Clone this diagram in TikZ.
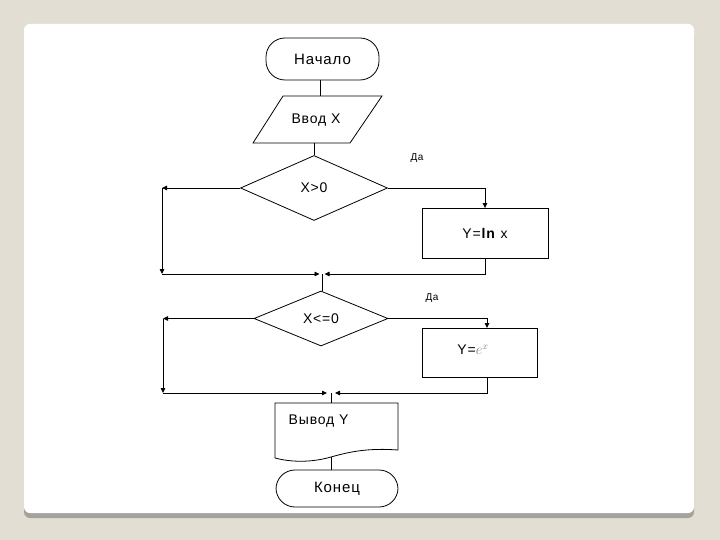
\documentclass[tikz,border=0pt]{standalone}
\usepackage{fontspec}
\setmainfont{Liberation Sans}[LetterSpace=6]
\usetikzlibrary{arrows.meta,shapes.geometric}
\definecolor{bg}{RGB}{227,222,211}
\definecolor{shadowc}{RGB}{165,161,155}
\begin{document}
\begin{tikzpicture}[x=1pt,y=-1pt,line width=0.8pt,
  arr/.style={-{Triangle[length=5pt,width=4.5pt]}},
  big/.style={font=\fontsize{15}{15}\selectfont},
  mid/.style={font=\fontsize{14}{14}\selectfont},
  small/.style={font=\fontsize{10}{10}\selectfont},
  boxs/.style={draw,rectangle,inner sep=0pt},
  term/.style={draw,rectangle,rounded corners=19pt,inner sep=0pt,big},
  dec/.style={draw,diamond,inner sep=0pt,mid}]
\useasboundingbox (0,0) rectangle (720,540);
\fill[bg] (0,0) rectangle (720,540);
\fill[shadowc,rounded corners=6pt] (24,30) rectangle (694,518);
\fill[white,rounded corners=6pt] (24,24) rectangle (694,513);
% start
\node[term,minimum width=113pt,minimum height=42pt] (start) at (322.5,59) {Начало};
% input
\coordinate (inpT) at (320,96);
\coordinate (inpB) at (314,143);
\draw (283,96) -- (382,96) -- (350,143) -- (253,143) -- cycle;
\node[mid] (inp) at (316,120) {Ввод X};
\draw (start.south -| inpT) -- (inpT);
% decision 1
\node[dec,minimum width=147pt,minimum height=65pt] (d1) at (314,188) {X>0};
\draw (inpB) -- (d1.north);
\node[draw,rectangle,minimum width=126pt,minimum height=50pt,mid] (r1) at (485,233.5) {Y=\textbf{ln} x};
\node[small] (da1) at (417,158) {Да};
\coordinate (L1) at (162,188);
\coordinate (L1b) at (162,274);
\coordinate (M1) at (322,274);
\coordinate (M1l) at (319.5,274);
\coordinate (M1r) at (324.5,274);
\draw[arr] (d1.west) -- (L1);
\draw[arr] (L1) -- (L1b);
\draw[arr] (L1b) -- (M1l);
\draw[arr] (d1.east) -| (r1.north);
\draw[arr] (r1.south) |- (M1r);
% decision 2
\node[dec,minimum width=134pt,minimum height=55pt] (d2) at (321,318.5) {X<=0};
\draw (M1) -- (M1 |- d2.north);
\node[draw,rectangle,minimum width=115pt,minimum height=49pt] (r2) at (479.5,352.5) {};
\node[mid] (r2t) at (473,350) {Y=\textcolor{gray}{$e^{x}$}};
\coordinate (r2top) at (487,328);
\coordinate (r2bot) at (487,377);
\node[small] (da2) at (432,298) {Да};
\coordinate (L2) at (163,318.5);
\coordinate (L2b) at (163,393);
\coordinate (M2) at (331,393);
\coordinate (M2l) at (327,393);
\coordinate (M2r) at (335,393);
\draw[arr] (d2.west) -- (L2);
\draw[arr] (L2) -- (L2b);
\draw[arr] (L2b) -- (M2l);
\draw[arr] (d2.east) -| (r2top);
\draw[arr] (r2bot) |- (M2r);
% output document
\coordinate (outT) at (331,403);
\coordinate (outB) at (331,457);
\draw (275,403) -- (398,403) -- (398,450) .. controls (370,448) and (352,451) .. (outB)
  .. controls (310,463) and (290,462) .. (275,458) -- cycle;
\node[mid,anchor=west] (out) at (285,421) {Вывод Y};
\draw (M2) -- (outT);
% end
\node[term,minimum width=122pt,minimum height=37pt] (end) at (337,488.5) {Конец};
\draw (outB) -- (outB |- end.north);
\end{tikzpicture}
\end{document}
